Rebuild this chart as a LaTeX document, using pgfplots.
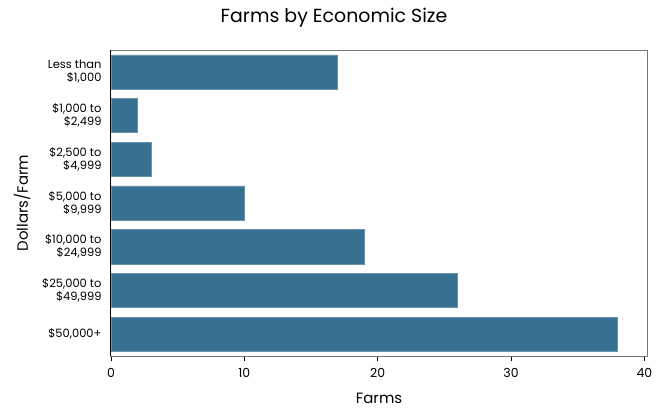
\documentclass[border=0pt]{standalone}
\usepackage{pgfplots}
\pgfplotsset{compat=1.18}
\usepackage{fontspec}
\setmainfont{Poppins}
\definecolor{barblue}{RGB}{56,112,145}
\definecolor{framegray}{RGB}{120,120,120}

\begin{document}
\begin{tikzpicture}
\path[use as bounding box] (-111bp,-52bp) rectangle (556bp,356bp);
\begin{axis}[
  at={(0,0)}, anchor=south west,
  scale only axis,
  width=536bp, height=306bp,
  xbar,
  bar width=0.78,
  y dir=reverse,
  xmin=0, xmax=40.2,
  ymin=-0.5, ymax=6.5,
  xtick={0,10,20,30,40},
  ytick={0,...,6},
  yticklabels={{Less than\\\$1,000},{\$1,000 to\\\$2,499},{\$2,500 to\\\$4,999},
    {\$5,000 to\\\$9,999},{\$10,000 to\\\$24,999},{\$25,000 to\\\$49,999},{\$50,000+}},
  yticklabel style={align=right, font=\fontsize{11.5}{13}\selectfont, xshift=-1bp},
  xticklabel style={font=\fontsize{12.5}{14}\selectfont, yshift=-4bp},
  /pgf/number format/assume math mode=true,
  tick align=outside,
  xtick pos=bottom,
  ytick pos=left,
  major tick length=5bp,
  y tick style={draw=none},
  x tick style={black, line width=0.8bp},
  axis line style={framegray, line width=1bp},
  xlabel={Farms},
  ylabel={Dollars/Farm},
  xlabel style={font=\fontsize{15}{16}\selectfont, at={(axis description cs:0.5,-0.14)}, anchor=center},
  ylabel style={font=\fontsize{15}{16}\selectfont, at={(axis description cs:-0.166,0.5)}, anchor=center},
  clip=false,
]
\addplot[fill=barblue, draw=barblue!75!white, line width=0.5bp]
  coordinates {(17,0) (2,1) (3,2) (10,3) (19,4) (26,5) (38,6)};
\draw[black, line width=1bp] (rel axis cs:0,0) -- (rel axis cs:0,1);
\end{axis}
\node[font=\fontsize{19}{21}\selectfont] at (223bp,338bp) {Farms by Economic Size};
\end{tikzpicture}
\end{document}
